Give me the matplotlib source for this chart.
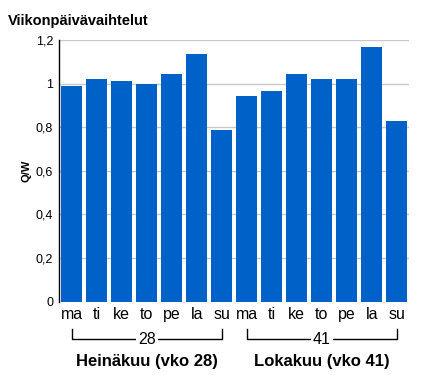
import matplotlib.pyplot as plt
from matplotlib.transforms import blended_transform_factory

plt.rcParams['font.family'] = ['Liberation Sans', 'DejaVu Sans']

days = ["ma", "ti", "ke", "to", "pe", "la", "su"]
week_nums = ["28", "41"]
group_labels = ["Heinäkuu (vko 28)", "Lokakuu (vko 41)"]
jul_values = [0.992, 1.02, 1.011, 1.001, 1.047, 1.135, 0.79]
oct_values = [0.946, 0.965, 1.043, 1.02, 1.024, 1.167, 0.827]
yticks = [0, 0.2, 0.4, 0.6, 0.8, 1.0, 1.2]
ytick_labels = ["0", "0,2", "0,4", "0,6", "0,8", "1", "1,2"]

values = jul_values + oct_values
xs = list(range(len(values)))

fig = plt.figure(figsize=(4.21, 3.75), dpi=100)
ax = fig.add_axes([0.141, 0.196, 0.8305, 0.6965])

ax.bar(xs, values, width=0.84, color="#0062C9", zorder=3)
ax.set_xlim(-0.49, len(values) - 0.51)
ax.set_ylim(0, 1.2)
ax.set_yticks(yticks)
ax.set_yticklabels(ytick_labels, fontsize=9)
ax.yaxis.grid(True, color="#c8c8c8", linewidth=1)
ax.tick_params(axis="y", length=0, pad=4.5)
ax.set_xticks(xs)
ax.set_xticklabels(days * 2, fontsize=11.5)
ax.tick_params(axis="x", length=0, pad=4)
for s in ["top", "right", "bottom"]:
    ax.spines[s].set_visible(False)
ax.spines["left"].set_linewidth(1)
ax.set_ylabel("Q/W", fontsize=8, fontweight="bold", labelpad=3)

trans = blended_transform_factory(ax.transData, ax.transAxes)
for g in range(2):
    x0 = g * 7
    x1 = g * 7 + 6
    ax.plot([x0, x0, x1, x1], [-0.105, -0.1436, -0.1436, -0.105],
            color="black", linewidth=1, transform=trans, clip_on=False)
    ax.text((x0 + x1) / 2, -0.1436, week_nums[g], transform=trans,
            ha="center", va="center", fontsize=11.5,
            bbox=dict(facecolor="white", edgecolor="none", pad=1.5))
    ax.text((x0 + x1) / 2, -0.228, group_labels[g], transform=trans,
            ha="center", va="center", fontsize=12, fontweight="bold")

fig.text(8 / 421, 1 - 21 / 375, "Viikonpäivävaihtelut", fontsize=10.5,
         fontweight="bold", ha="left", va="center")

fig.savefig("out.png", dpi=100)
